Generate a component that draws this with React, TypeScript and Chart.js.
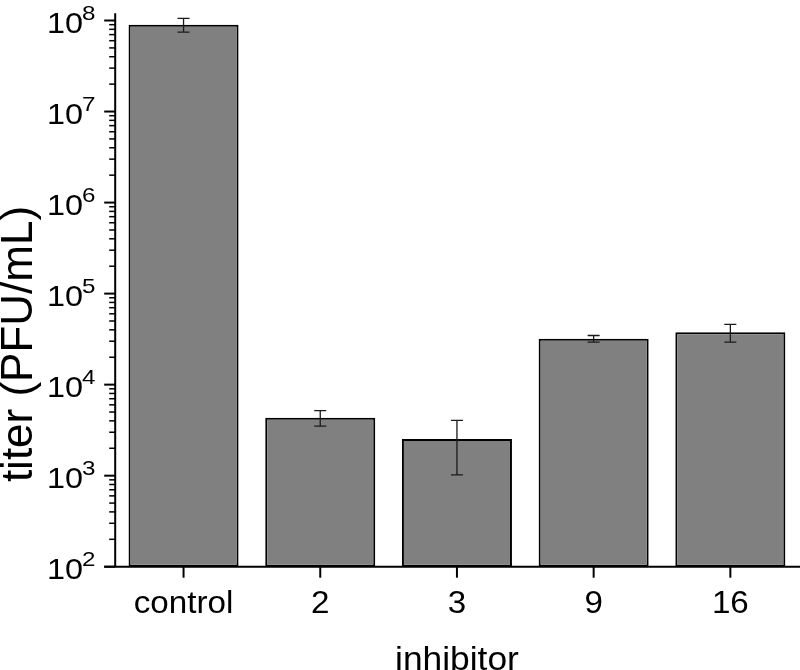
import React, { useEffect, useRef } from 'react';
import { Chart, registerables } from 'chart.js';

Chart.register(...registerables);

const categories = ['control', '2', '3', '9', '16'];
const titerMeans = [9.0e7, 4340, 2530, 32000, 37650];
const titerErrors = [1.55e7, 830, 1510, 2650, 8300];
const yTickExponents = [2, 3, 4, 5, 6, 7, 8];
const yMin = 100;
const yMax = 1.2e8;
const xAxisTitle = 'inhibitor';
const yAxisTitle = 'titer (PFU/mL)';

const FONT = '"Liberation Sans", Arial, Helvetica, sans-serif';

function drawText(
  ctx: CanvasRenderingContext2D,
  text: string,
  x: number,
  y: number,
  size: number,
  sx: number,
  align: CanvasTextAlign,
  rot = 0
) {
  ctx.save();
  ctx.translate(x, y);
  if (rot) ctx.rotate(rot);
  ctx.scale(sx, 1);
  ctx.font = `${size}px ${FONT}`;
  ctx.textAlign = align;
  ctx.textBaseline = 'alphabetic';
  ctx.fillStyle = '#000';
  ctx.fillText(text, 0, 0);
  ctx.restore();
}

const decorPlugin = {
  id: 'decor',
  afterDatasetsDraw(chart: any) {
    const ctx: CanvasRenderingContext2D = chart.ctx;
    const ys = chart.scales.y;
    const meta = chart.getDatasetMeta(0);

    ctx.save();
    ctx.strokeStyle = '#1a1a1a';
    ctx.lineWidth = 1.3;
    titerMeans.forEach((m, i) => {
      const el = meta.data[i];
      if (!el) return;
      const x = el.x;
      const yt = ys.getPixelForValue(m + titerErrors[i]);
      const yb = ys.getPixelForValue(Math.max(m - titerErrors[i], yMin));
      ctx.beginPath();
      ctx.moveTo(x, yt);
      ctx.lineTo(x, yb);
      ctx.moveTo(x - 6, yt);
      ctx.lineTo(x + 6, yt);
      ctx.moveTo(x - 6, yb);
      ctx.lineTo(x + 6, yb);
      ctx.stroke();
    });
    ctx.restore();
  },
  afterDraw(chart: any) {
    const ctx: CanvasRenderingContext2D = chart.ctx;
    const area = chart.chartArea;
    const ys = chart.scales.y;
    const meta = chart.getDatasetMeta(0);
    const ax = area.left;
    const ay = area.bottom;

    ctx.save();
    ctx.strokeStyle = '#000';
    ctx.lineWidth = 2;
    ctx.beginPath();
    ctx.moveTo(ax, area.top);
    ctx.lineTo(ax, ay);
    ctx.moveTo(ax - 11, ay);
    ctx.lineTo(chart.width, ay);
    ctx.stroke();

    yTickExponents.forEach((e) => {
      const py = ys.getPixelForValue(Math.pow(10, e));
      ctx.lineWidth = 2;
      ctx.beginPath();
      ctx.moveTo(ax - 11, py);
      ctx.lineTo(ax, py);
      ctx.stroke();
      drawText(ctx, '10', 83, py + 12.5, 30, 1.08, 'right');
      drawText(ctx, String(e), 82, py - 1, 21, 1.15, 'left');
    });
    ctx.lineWidth = 1.5;
    for (let e = yTickExponents[0]; e < yTickExponents[yTickExponents.length - 1]; e++) {
      for (let m = 2; m <= 9; m++) {
        const py = ys.getPixelForValue(m * Math.pow(10, e));
        ctx.beginPath();
        ctx.moveTo(ax - 6, py);
        ctx.lineTo(ax, py);
        ctx.stroke();
      }
    }

    categories.forEach((c, i) => {
      const el = meta.data[i];
      if (!el) return;
      ctx.lineWidth = 2;
      ctx.beginPath();
      ctx.moveTo(el.x, ay);
      ctx.lineTo(el.x, ay + 11);
      ctx.stroke();
      drawText(ctx, c, el.x, 613, 31, 1.07, 'center');
    });
    ctx.restore();

    drawText(ctx, xAxisTitle, (area.left + area.right) / 2, 670, 34, 1.04, 'center');
    drawText(ctx, yAxisTitle, 32, 344, 44, 1, 'center', -Math.PI / 2);
  },
};

export default function App() {
  const ref = useRef<HTMLCanvasElement | null>(null);

  useEffect(() => {
    document.body.style.margin = '0';
    if (!ref.current) return;
    const chart = new Chart(ref.current, {
      type: 'bar',
      data: {
        labels: categories,
        datasets: [
          {
            data: titerMeans,
            backgroundColor: '#808080',
            borderColor: '#000',
            borderWidth: 2,
            borderSkipped: false,
            categoryPercentage: 1,
            barPercentage: 0.805,
          },
        ],
      },
      options: {
        responsive: false,
        animation: false,
        devicePixelRatio: 1,
        layout: { padding: { left: 115.2, right: 1.3, top: 13.3, bottom: 103.3 } },
        plugins: { legend: { display: false }, tooltip: { enabled: false }, title: { display: false } },
        scales: {
          x: {
            type: 'category',
            offset: true,
            grid: { display: false, drawTicks: false },
            border: { display: false },
            ticks: { display: false },
            afterFit: (s: any) => {
              s.height = 0;
            },
          },
          y: {
            type: 'logarithmic',
            min: yMin,
            max: yMax,
            grid: { display: false, drawTicks: false },
            border: { display: false },
            ticks: { display: false },
            afterFit: (s: any) => {
              s.width = 0;
            },
          },
        },
      },
      plugins: [decorPlugin],
    });
    return () => chart.destroy();
  }, []);

  return (
    <div style={{ width: 800, height: 670 }}>
      <canvas ref={ref} width={800} height={670} style={{ display: 'block' }} />
    </div>
  );
}
